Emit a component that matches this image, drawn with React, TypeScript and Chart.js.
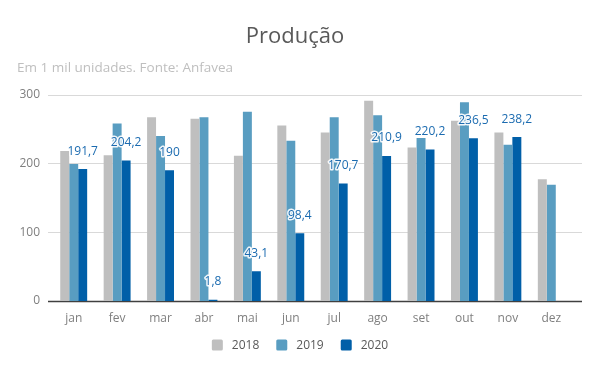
import React, { useEffect, useRef } from "react";
import { Chart, registerables } from "chart.js";

Chart.register(...registerables);

const months = ["jan", "fev", "mar", "abr", "mai", "jun", "jul", "ago", "set", "out", "nov", "dez"];
const prod2018 = [218, 212, 267, 265, 211, 255, 245, 291, 223, 262, 245, 177];
const prod2019 = [199, 258, 240, 267, 275, 233, 267, 270, 237, 289, 227, 169];
const prod2020 = [191.7, 204.2, 190, 1.8, 43.1, 98.4, 170.7, 210.9, 220.2, 236.5, 238.2, null];
const yTicks = [0, 100, 200, 300];

const FONT = "'Open Sans', 'Noto Sans', sans-serif";
const frontColors = ["#bfbfbf", "#599dc1", "#005fa8"];
const sideColors = ["#808080", "#3c6d87", "#003e70"];
const topColors = ["#d4d4d4", "#7fb4d1", "#2a7cbc"];

const bevelPlugin = {
  id: "bevel",
  afterDatasetDraw(chart: any, args: any) {
    const i = args.index;
    const meta = chart.getDatasetMeta(i);
    const ctx = chart.ctx;
    const d = 2;
    ctx.save();
    meta.data.forEach((bar: any) => {
      if (bar.skip || bar.$context?.raw == null) return;
      const w = bar.width;
      const left = bar.x - w / 2;
      const right = bar.x + w / 2;
      const top = bar.y;
      const bottom = bar.base;
      ctx.fillStyle = sideColors[i];
      ctx.beginPath();
      ctx.moveTo(right - d, top);
      ctx.lineTo(right, top - d);
      ctx.lineTo(right, bottom);
      ctx.lineTo(right - d, bottom);
      ctx.closePath();
      ctx.fill();
      ctx.fillStyle = topColors[i];
      ctx.beginPath();
      ctx.moveTo(left, top);
      ctx.lineTo(left + d, top - d);
      ctx.lineTo(right, top - d);
      ctx.lineTo(right - d, top);
      ctx.closePath();
      ctx.fill();
    });
    ctx.restore();
  },
};

const gridPlugin = {
  id: "customGrid",
  beforeDatasetsDraw(chart: any) {
    const ctx = chart.ctx;
    const y = chart.scales.y;
    const area = chart.chartArea;
    const x0 = area.left - 4;
    const x1 = area.right + 9;
    ctx.save();
    yTicks.forEach((t) => {
      const py = Math.round(y.getPixelForValue(t)) + 0.5;
      ctx.strokeStyle = t === 0 ? "#404040" : "#d9d9d9";
      ctx.lineWidth = t === 0 ? 1.5 : 1;
      ctx.beginPath();
      ctx.moveTo(x0, py);
      ctx.lineTo(x1, py);
      ctx.stroke();
    });
    ctx.restore();
  },
};

const labelPlugin = {
  id: "valueLabels",
  afterDatasetsDraw(chart: any) {
    const meta = chart.getDatasetMeta(2);
    const ctx = chart.ctx;
    ctx.save();
    ctx.font = `12px ${FONT}`;
    ctx.textAlign = "center";
    ctx.textBaseline = "middle";
    ctx.lineJoin = "round";
    meta.data.forEach((bar: any, j: number) => {
      const v = prod2020[j];
      if (v == null) return;
      const txt = String(v).replace(".", ",");
      const px = bar.x;
      const py = bar.y - 18;
      ctx.strokeStyle = "rgba(255,255,255,0.9)";
      ctx.lineWidth = 3;
      ctx.strokeText(txt, px, py);
      ctx.fillStyle = "#1b6bb0";
      ctx.fillText(txt, px, py);
    });
    ctx.restore();
  },
};

const legendPlugin = {
  id: "bottomLegend",
  afterDraw(chart: any) {
    const ctx = chart.ctx;
    const ds = chart.data.datasets;
    const box = 11;
    const gapBoxText = 9;
    const gapItems = 17;
    const cy = 345;
    ctx.save();
    ctx.font = `12px ${FONT}`;
    ctx.textBaseline = "middle";
    ctx.textAlign = "left";
    const widths = ds.map((d: any) => box + gapBoxText + ctx.measureText(d.label).width);
    const total = widths.reduce((a: number, b: number) => a + b, 0) + gapItems * (ds.length - 1);
    let x = chart.width / 2 - total / 2;
    ds.forEach((d: any, i: number) => {
      ctx.fillStyle = d.backgroundColor;
      ctx.beginPath();
      ctx.roundRect ? ctx.roundRect(x, cy - box / 2, box, box, 1.5) : ctx.rect(x, cy - box / 2, box, box);
      ctx.fill();
      ctx.fillStyle = "#595959";
      ctx.fillText(d.label, x + box + gapBoxText, cy + 0.5);
      x += widths[i] + gapItems;
    });
    ctx.restore();
  },
};

export default function App() {
  const ref = useRef<HTMLCanvasElement | null>(null);
  useEffect(() => {
    document.body.style.margin = "0";
    const chart = new Chart(ref.current as HTMLCanvasElement, {
      type: "bar",
      data: {
        labels: months,
        datasets: [
          { label: "2018", data: prod2018, backgroundColor: frontColors[0] },
          { label: "2019", data: prod2019, backgroundColor: frontColors[1] },
          { label: "2020", data: prod2020 as any, backgroundColor: frontColors[2] },
        ],
      },
      options: {
        animation: false,
        responsive: false,
        datasets: { bar: { categoryPercentage: 0.62, barPercentage: 1 } },
        layout: { padding: { left: 17, right: 27, top: 0, bottom: 0 } },
        scales: {
          x: {
            afterFit: (axis: any) => {
              axis.height = 70;
            },
            grid: { display: false, drawTicks: false },
            border: { display: false },
            ticks: { color: "#7f7f7f", font: { size: 12, family: FONT }, padding: 10 },
          },
          y: {
            min: 0,
            max: 300,
            afterFit: (axis: any) => {
              axis.width = 35;
            },
            grid: { display: false, drawTicks: false },
            border: { display: false },
            ticks: {
              stepSize: 100,
              color: "#7f7f7f",
              font: { size: 12, family: FONT },
              padding: 12,
            },
          },
        },
        plugins: {
          title: {
            display: true,
            text: "Produção",
            color: "#595959",
            font: { size: 22, family: FONT, weight: "normal" },
            padding: { top: 24, bottom: 4 },
          },
          subtitle: {
            display: true,
            text: "Em 1 mil unidades. Fonte: Anfavea",
            align: "start",
            color: "#bfbfbf",
            font: { size: 13.5, family: FONT },
            padding: { top: 6, bottom: 18 },
          },
          legend: { display: false },
          tooltip: { enabled: false },
        },
      },
      plugins: [gridPlugin, bevelPlugin, labelPlugin, legendPlugin],
    });
    return () => chart.destroy();
  }, []);
  return (
    <div style={{ width: 600, height: 371 }}>
      <canvas ref={ref} width={600} height={371} style={{ width: 600, height: 371, display: "block" }} />
    </div>
  );
}
